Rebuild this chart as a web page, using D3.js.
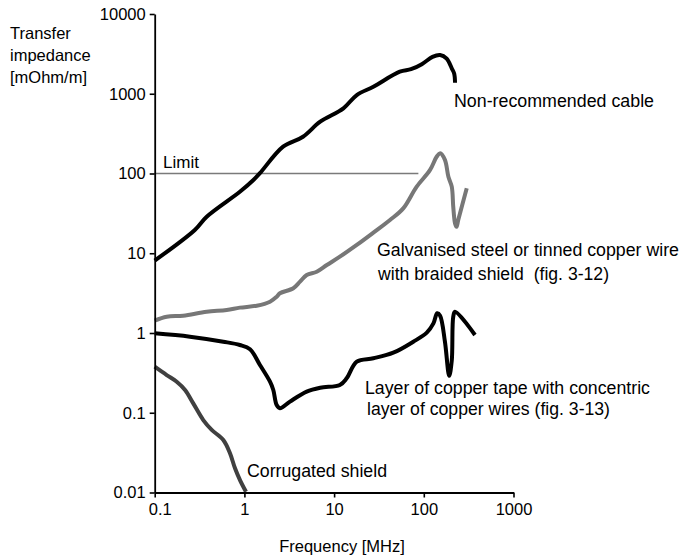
<!DOCTYPE html>
<html>
<head>
<meta charset="utf-8">
<script src="https://cdn.jsdelivr.net/npm/d3@7"></script>
<style>
  html, body { margin: 0; padding: 0; background: #fff; }
  svg { display: block; font-family: "Liberation Sans", Arial, Helvetica, sans-serif; }
</style>
</head>
<body>
<svg id="chart" width="685" height="559"></svg>
<script>
// ---- Data (frequency MHz, transfer impedance mOhm/m) ----
const xTickValues = [0.1, 1, 10, 100, 1000];
const xTickLabels = ["0.1", "1", "10", "100", "1000"];
const yTickValues = [0.01, 0.1, 1, 10, 100, 1000, 10000];
const yTickLabels = ["0.01", "0.1", "1", "10", "100", "1000", "10000"];

const nonRecFreq = [0.1, 0.28, 0.38, 0.89, 1.26, 1.49, 2.7, 4.5, 7.0, 12.7, 17.9, 27.4, 54, 72, 95, 125, 152, 180, 205, 218, 223];
const nonRecVal  = [8.1, 19.6, 28.7, 59, 83, 101, 217, 289, 446, 657, 964, 1226, 1890, 2030, 2350, 2900, 3060, 2750, 2085, 1790, 1376];

const galvFreq = [0.1, 0.136, 0.208, 0.38, 0.635, 0.89, 1.37, 1.93, 2.29, 2.49, 3.51, 4.17, 4.95, 6.4, 8.3, 11.6, 17.9, 27.4, 42, 59, 83, 117, 139, 152, 172, 188, 205, 213, 223, 232, 242, 301];
const galvVal  = [1.43, 1.6, 1.65, 1.85, 1.94, 2.08, 2.2, 2.47, 2.85, 3.15, 3.64, 4.4, 5.34, 5.87, 7.12, 9.05, 12.7, 18.1, 26.1, 36.5, 68, 110, 162, 179, 148, 91, 68.3, 38.3, 23.7, 21.5, 26.1, 65.2];

const tapeFreq = [0.1, 0.247, 0.582, 0.89, 1.155, 1.49, 1.93, 2.1, 2.29, 2.49, 3.22, 4.95, 7.0, 11.6, 13.8, 17.9, 27.4, 45.7, 76.4, 108, 128, 141, 152, 172, 192, 205, 213, 223, 372];
const tapeVal  = [0.99, 0.9, 0.778, 0.707, 0.625, 0.397, 0.245, 0.193, 0.125, 0.114, 0.138, 0.184, 0.206, 0.223, 0.27, 0.437, 0.482, 0.566, 0.778, 1.01, 1.32, 1.77, 1.65, 0.78, 0.29, 0.45, 1.6, 1.85, 0.944];

const corrFreq = [0.1, 0.136, 0.176, 0.218, 0.269, 0.348, 0.432, 0.582, 0.691, 0.786, 0.893, 1.042];
const corrVal  = [0.378, 0.297, 0.245, 0.193, 0.131, 0.081, 0.061, 0.0455, 0.031, 0.0201, 0.0143, 0.0102];

const limitFreq = [0.1, 87];
const limitVal = [100, 100];

// ---- Chart ----
const svg = d3.select("#chart");
const x = d3.scaleLog().domain([0.1, 1000]).range([154.7, 513.5]);
const y = d3.scaleLog().domain([0.01, 10000]).range([492.5, 14]);

const zip = (fs, vs) => fs.map((f, i) => [f, vs[i]]);
const line = d3.line().x(d => x(d[0])).y(d => y(d[1])).curve(d3.curveCatmullRom.alpha(0.5));
const straight = d3.line().x(d => x(d[0])).y(d => y(d[1]));

// Limit line
svg.append("path").attr("d", straight(zip(limitFreq, limitVal)))
  .attr("fill", "none").attr("stroke", "#7a7a7a").attr("stroke-width", 1.6);

const series = [
  { f: corrFreq, v: corrVal, color: "#404040" },
  { f: galvFreq, v: galvVal, color: "#777777" },
  { f: tapeFreq, v: tapeVal, color: "#000000" },
  { f: nonRecFreq, v: nonRecVal, color: "#000000" }
];
series.forEach(s => {
  svg.append("path").attr("d", line(zip(s.f, s.v)))
    .attr("fill", "none").attr("stroke", s.color).attr("stroke-width", 4)
    .attr("stroke-linejoin", "round").attr("stroke-linecap", "butt");
});

// Axes
const xAxis = d3.axisBottom(x).tickValues(xTickValues)
  .tickFormat((d, i) => xTickLabels[i]).tickSizeInner(5).tickSizeOuter(0).tickPadding(6);
const yAxis = d3.axisLeft(y).tickValues(yTickValues)
  .tickFormat((d, i) => yTickLabels[i]).tickSizeInner(5).tickSizeOuter(0).tickPadding(4);

const gx = svg.append("g").attr("transform", "translate(0,492.5)").call(xAxis);
const gy = svg.append("g").attr("transform", "translate(154.7,0)").call(yAxis);
[gx, gy].forEach(g => {
  g.select(".domain").attr("stroke", "#000").attr("stroke-width", 1.8);
  g.selectAll(".tick line").attr("stroke", "#000").attr("stroke-width", 1.6);
  g.selectAll(".tick text").attr("fill", "#000").attr("font-size", "16.5px")
    .attr("font-family", "Liberation Sans, Arial, sans-serif");
});
gx.selectAll(".tick text").filter((d, i) => i === 0).attr("dx", 5);

// Axis titles
[["Transfer", 39], ["impedance", 61], ["[mOhm/m]", 83]].forEach(([t, yy]) => {
  svg.append("text").attr("x", 10).attr("y", yy).attr("font-size", "16.5px").text(t);
});
svg.append("text").attr("x", 342).attr("y", 552).attr("text-anchor", "middle")
  .attr("font-size", "16.5px").text("Frequency [MHz]");

// Annotations
const notes = [
  { t: "Limit", x: 163, y: 168, len: 36 },
  { t: "Non-recommended cable", x: 454, y: 107, len: 200 },
  { t: "Galvanised steel or tinned copper wire", x: 377, y: 256, len: 302 },
  { t: "with braided shield  (fig. 3-12)", x: 378, y: 279.5, len: 231 },
  { t: "Layer of copper tape with concentric", x: 365, y: 394, len: 285 },
  { t: "layer of copper wires (fig. 3-13)", x: 367, y: 415, len: 243 },
  { t: "Corrugated shield", x: 247, y: 477, len: 140 }
];
notes.forEach(n => {
  svg.append("text").attr("x", n.x).attr("y", n.y)
    .attr("font-size", n.t === "Limit" ? "16.5px" : "17.5px")
    .attr("textLength", n.len).attr("lengthAdjust", "spacingAndGlyphs")
    .style("white-space", "pre")
    .attr("fill", "#000").text(n.t);
});
</script>
</body>
</html>
